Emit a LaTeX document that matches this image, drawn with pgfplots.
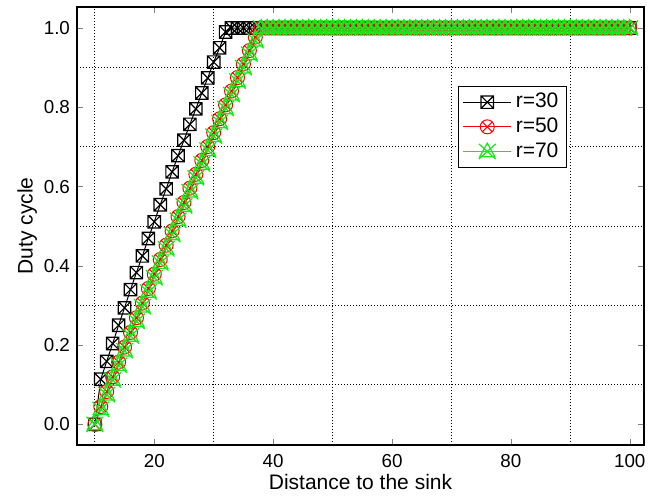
\documentclass[border=0pt]{standalone}
\usepackage{fontspec}
\setmainfont{Liberation Sans}
\usepackage{pgfplots}
\usepackage{pgfplotstable}
\pgfplotsset{compat=1.18}
\usetikzlibrary{calc}

% square with a cross inside
\pgfdeclareplotmark{boxcross}{%
  \pgfpathrectangle{\pgfqpoint{-\pgfplotmarksize}{-\pgfplotmarksize}}{\pgfqpoint{2\pgfplotmarksize}{2\pgfplotmarksize}}%
  \pgfpathmoveto{\pgfqpoint{-\pgfplotmarksize}{-\pgfplotmarksize}}%
  \pgfpathlineto{\pgfqpoint{\pgfplotmarksize}{\pgfplotmarksize}}%
  \pgfpathmoveto{\pgfqpoint{-\pgfplotmarksize}{\pgfplotmarksize}}%
  \pgfpathlineto{\pgfqpoint{\pgfplotmarksize}{-\pgfplotmarksize}}%
  \pgfusepathqstroke}
% triangle with a cross through it
\pgfdeclareplotmark{tricross}{%
  \pgfpathmoveto{\pgfqpoint{0pt}{1.1\pgfplotmarksize}}%
  \pgfpathlineto{\pgfqpoint{-\pgfplotmarksize}{-0.7\pgfplotmarksize}}%
  \pgfpathlineto{\pgfqpoint{\pgfplotmarksize}{-0.7\pgfplotmarksize}}%
  \pgfpathclose
  \pgfpathmoveto{\pgfqpoint{-1.1\pgfplotmarksize}{-1\pgfplotmarksize}}%
  \pgfpathlineto{\pgfqpoint{1.1\pgfplotmarksize}{1\pgfplotmarksize}}%
  \pgfpathmoveto{\pgfqpoint{-1.1\pgfplotmarksize}{1\pgfplotmarksize}}%
  \pgfpathlineto{\pgfqpoint{1.1\pgfplotmarksize}{-1\pgfplotmarksize}}%
  \pgfusepathqstroke}

\definecolor{mygreen}{RGB}{20,235,20}

\pgfplotstableread{
d    r30    r50    r70
10   0.000  0.000  0.000
11   0.114  0.045  0.038
12   0.159  0.083  0.075
13   0.204  0.120  0.112
14   0.250  0.157  0.149
15   0.294  0.195  0.186
16   0.340  0.232  0.223
17   0.383  0.269  0.260
18   0.425  0.306  0.297
19   0.469  0.343  0.334
20   0.511  0.379  0.370
21   0.554  0.416  0.407
22   0.594  0.452  0.443
23   0.637  0.488  0.479
24   0.678  0.524  0.515
25   0.717  0.560  0.551
26   0.757  0.596  0.587
27   0.796  0.631  0.622
28   0.836  0.666  0.657
29   0.874  0.701  0.692
30   0.914  0.736  0.727
31   0.950  0.771  0.762
32   0.990  0.806  0.797
33   1.000  0.841  0.832
34   1.000  0.875  0.866
35   1.000  0.909  0.900
36   1.000  0.943  0.934
37   1.000  0.977  0.968
38   1.000  1.000  1.000
39   1.000  1.000  1.000
40   1.000  1.000  1.000
41   1.000  1.000  1.000
42   1.000  1.000  1.000
43   1.000  1.000  1.000
44   1.000  1.000  1.000
45   1.000  1.000  1.000
46   1.000  1.000  1.000
47   1.000  1.000  1.000
48   1.000  1.000  1.000
49   1.000  1.000  1.000
50   1.000  1.000  1.000
51   1.000  1.000  1.000
52   1.000  1.000  1.000
53   1.000  1.000  1.000
54   1.000  1.000  1.000
55   1.000  1.000  1.000
56   1.000  1.000  1.000
57   1.000  1.000  1.000
58   1.000  1.000  1.000
59   1.000  1.000  1.000
60   1.000  1.000  1.000
61   1.000  1.000  1.000
62   1.000  1.000  1.000
63   1.000  1.000  1.000
64   1.000  1.000  1.000
65   1.000  1.000  1.000
66   1.000  1.000  1.000
67   1.000  1.000  1.000
68   1.000  1.000  1.000
69   1.000  1.000  1.000
70   1.000  1.000  1.000
71   1.000  1.000  1.000
72   1.000  1.000  1.000
73   1.000  1.000  1.000
74   1.000  1.000  1.000
75   1.000  1.000  1.000
76   1.000  1.000  1.000
77   1.000  1.000  1.000
78   1.000  1.000  1.000
79   1.000  1.000  1.000
80   1.000  1.000  1.000
81   1.000  1.000  1.000
82   1.000  1.000  1.000
83   1.000  1.000  1.000
84   1.000  1.000  1.000
85   1.000  1.000  1.000
86   1.000  1.000  1.000
87   1.000  1.000  1.000
88   1.000  1.000  1.000
89   1.000  1.000  1.000
90   1.000  1.000  1.000
91   1.000  1.000  1.000
92   1.000  1.000  1.000
93   1.000  1.000  1.000
94   1.000  1.000  1.000
95   1.000  1.000  1.000
96   1.000  1.000  1.000
97   1.000  1.000  1.000
98   1.000  1.000  1.000
99   1.000  1.000  1.000
100  1.000  1.000  1.000
}\dutytable

\begin{document}
\begin{tikzpicture}
\begin{axis}[
  name=ax,
  scale only axis,
  width=283.5pt, height=219pt,
  xmin=7, xmax=102.4,
  ymin=-0.052, ymax=1.053,
  xtick={20,40,60,80,100},
  ytick={0,0.2,0.4,0.6,0.8,1.0},
  minor xtick={10,30,50,70,90},
  minor ytick={0.1,0.3,0.5,0.7,0.9},
  yticklabel style={/pgf/number format/.cd, fixed, fixed zerofill, precision=1},
  /pgf/number format/assume math mode=true,
  tick label style={font=\fontsize{9.4}{11}\selectfont},
  label style={font=\fontsize{10.5}{12.6}\selectfont},
  xlabel={Distance to the sink},
  ylabel={Duty cycle},
  xlabel style={yshift=3.5pt},
  ylabel style={yshift=-3.5pt},
  xticklabel style={yshift=-1pt},
  tick align=inside,
  major tick length=3pt,
  minor tick length=0pt,
  axis line style={line width=0.8pt},
  grid=minor,
  minor grid style={black, line width=0.45pt, dash pattern=on 0.5pt off 1pt},
  legend style={
    at={(0.864,0.820)}, anchor=north east,
    draw=black, line width=0.5pt, fill=white,
    font=\fontsize{10.5}{12.6}\selectfont,
    inner xsep=2pt, inner ysep=1.5pt,
    row sep=-0.5pt,
    cells={anchor=west},
  },
  legend image code/.code={%
    \draw[mark repeat=2,mark phase=2,#1]
      plot coordinates {(0cm,0cm) (0.42cm,0cm) (0.84cm,0cm)};},
]
\addplot[black, line width=0.5pt, mark=boxcross, mark size=3.1pt,
  mark options={line width=0.6pt}] table[x=d, y=r30] {\dutytable};
\addlegendentry{r=30}
\addplot[red, line width=0.5pt, mark=otimes, mark size=3.5pt,
  mark options={line width=0.5pt}] table[x=d, y=r50] {\dutytable};
\addlegendentry{r=50}
\addplot[mygreen, line width=0.6pt, mark=tricross, mark size=3.8pt,
  mark options={line width=0.6pt}] table[x=d, y=r70] {\dutytable};
\addlegendentry{r=70}
\end{axis}
\pgfresetboundingbox
\useasboundingbox ($(ax.south west)+(-38.5pt,-26pt)$) rectangle ($(ax.north east)+(3.5pt,3.5pt)$);
\end{tikzpicture}
\end{document}
